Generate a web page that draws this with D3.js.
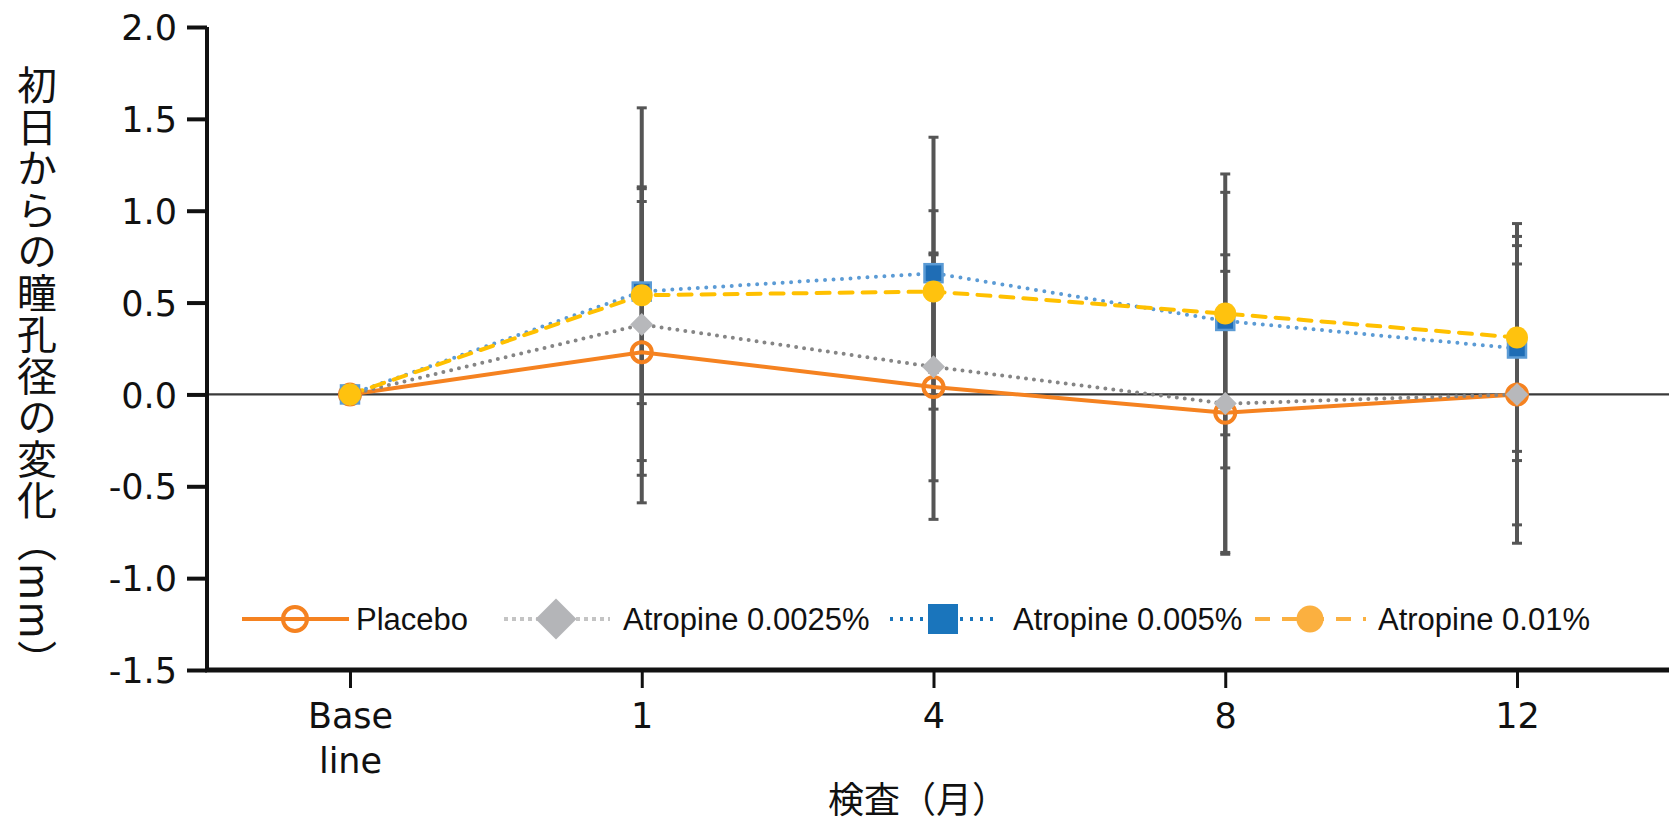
<!DOCTYPE html>
<html><head><meta charset="utf-8">
<script src="https://cdn.jsdelivr.net/npm/d3@7"></script>
<style>body{margin:0;background:#fff} svg{display:block}</style>
</head><body>
<svg id="c" width="1669" height="823"></svg>
<script>
// ---- data ----
const categories = ["Base line", "1", "4", "8", "12"];
const yTicks = [-1.5, -1.0, -0.5, 0.0, 0.5, 1.0, 1.5, 2.0];
const seriesNames = ["Placebo", "Atropine 0.0025%", "Atropine 0.005%", "Atropine 0.01%"];
const placeboMean = [0, 0.23, 0.04, -0.10, 0.00];
const placeboSD   = [0, 0.82, 0.72, 0.77, 0.81];
const atr0025Mean = [0, 0.38, 0.15, -0.05, 0.00];
const atr0025SD   = [0, 0.74, 0.62, 0.81, 0.71];
const atr005Mean  = [0, 0.56, 0.66, 0.40, 0.25];
const atr005SD    = [0, 1.00, 0.74, 0.80, 0.61];
const atr001Mean  = [0, 0.54, 0.56, 0.44, 0.31];
const atr001SD    = [0, 0.59, 0.44, 0.66, 0.62];
const yTitle = "初日からの瞳孔径の変化（mm）";
const xTitle = "検査（月）";

// ---- styles ----
const styles = [
  {line:"#f58220", dash:null, cap:"butt", marker:"openCircle", mfill:"none", mstroke:"#f58220",
   lg:{line:"#f58220", dash:null, fill:"#f58220"}},
  {line:"#858585", dash:"0 8", cap:"round", marker:"diamond", mfill:"#b7b8bb", mstroke:"none",
   lg:{line:"#c4c4c4", dash:"4 4", fill:"#b4b5b8"}},
  {line:"#5b9bd5", dash:"0 8.5", cap:"round", marker:"square", mfill:"#1f6db5", mstroke:"#5b9bd5",
   lg:{line:"#1a75bc", dash:"3 7", fill:"#1a75bc"}},
  {line:"#ffc000", dash:"13 10", cap:"round", marker:"circle", mfill:"#ffc20e", mstroke:"none",
   lg:{line:"#fbb040", dash:"15 12", fill:"#fbb040"}}
];
const series = seriesNames.map((name, i) => ({
  name,
  mean: [placeboMean, atr0025Mean, atr005Mean, atr001Mean][i],
  sd: [placeboSD, atr0025SD, atr005SD, atr001SD][i],
  st: styles[i]
}));

const svg = d3.select("#c");
const x = d3.scalePoint().domain(categories).range([350, 1517]);
const y = d3.scaleLinear().domain([-1.5, 2.0]).range([670, 27]);
const axisLeft = 207, axisRight = 1669;

const numFont = "'DejaVu Sans', Verdana, sans-serif";
const cjkFont = "'Noto Sans CJK JP', 'DejaVu Sans', sans-serif";

// zero line
svg.append("line").attr("x1", axisLeft).attr("x2", axisRight)
  .attr("y1", y(0)).attr("y2", y(0)).attr("stroke", "#3a3a3a").attr("stroke-width", 2.2);

// y axis
const gy = svg.append("g").attr("transform", `translate(${axisLeft},0)`)
  .call(d3.axisLeft(y).tickValues(yTicks).tickSize(20).tickPadding(10).tickFormat(d => d.toFixed(1)));
gy.select(".domain").attr("stroke", "#111").attr("stroke-width", 4).attr("d", `M0,${y(2.0)}V${y(-1.5)+2}`);
gy.selectAll(".tick line").attr("stroke", "#111").attr("stroke-width", 4);
gy.selectAll(".tick text").attr("font-family", numFont).attr("font-size", 35).attr("fill", "#111")
  .attr("dy", "0.36em");

// x axis
const gx = svg.append("g").attr("transform", `translate(0,${y(-1.5)})`)
  .call(d3.axisBottom(x).tickSize(18).tickSizeOuter(0));
gx.select(".domain").attr("stroke", "#111").attr("stroke-width", 5).attr("d", `M${axisLeft-2},0H${axisRight}`);
gx.selectAll(".tick line").attr("stroke", "#111").attr("stroke-width", 3);
gx.selectAll(".tick text").attr("font-family", numFont).attr("font-size", 35).attr("fill", "#111")
  .attr("y", 58).attr("dy", 0)
  .each(function(d) {
    const parts = d.split(" ");
    const t = d3.select(this).text(null);
    parts.forEach((p, k) => t.append("tspan").attr("x", 0).attr("dy", k === 0 ? 0 : 45).text(p));
  });

// axis titles
svg.append("text").attr("x", 918).attr("y", 813).attr("text-anchor", "middle")
  .attr("font-family", cjkFont).attr("font-size", 36).attr("fill", "#111").text(xTitle);
svg.append("text").attr("x", 37).attr("y", 65)
  .style("writing-mode", "vertical-rl")
  .attr("font-family", cjkFont).attr("font-size", 40).attr("letter-spacing", 1.5).attr("fill", "#111").text(yTitle);

// error bars
const eb = svg.append("g");
series.forEach(s => {
  categories.forEach((c, i) => {
    if (!s.sd[i]) return;
    const cx = x(c), hi = y(s.mean[i] + s.sd[i]), lo = y(s.mean[i] - s.sd[i]);
    eb.append("line").attr("x1", cx).attr("x2", cx).attr("y1", hi).attr("y2", lo)
      .attr("stroke", "#555").attr("stroke-width", 4);
    [hi, lo].forEach(v => eb.append("line").attr("x1", cx - 5).attr("x2", cx + 5).attr("y1", v).attr("y2", v)
      .attr("stroke", "#555").attr("stroke-width", 3));
  });
});

// lines
const lineGen = d3.line().x((d, i) => x(categories[i])).y(d => y(d));
series.forEach(s => {
  svg.append("path").attr("d", lineGen(s.mean)).attr("fill", "none")
    .attr("stroke", s.st.line).attr("stroke-width", 4)
    .attr("stroke-dasharray", s.st.dash).attr("stroke-linecap", s.st.cap);
});

function drawMarker(g, type, cx, cy, size, fill, stroke) {
  if (type === "openCircle") {
    g.append("circle").attr("cx", cx).attr("cy", cy).attr("r", size)
      .attr("fill", "none").attr("stroke", stroke).attr("stroke-width", 4);
  } else if (type === "circle") {
    g.append("circle").attr("cx", cx).attr("cy", cy).attr("r", size).attr("fill", fill);
  } else if (type === "diamond") {
    const w = size, h = size;
    g.append("path").attr("d", `M${cx},${cy-h}L${cx+w},${cy}L${cx},${cy+h}L${cx-w},${cy}Z`).attr("fill", fill);
  } else if (type === "square") {
    g.append("rect").attr("x", cx - size).attr("y", cy - size).attr("width", 2*size).attr("height", 2*size)
      .attr("fill", fill).attr("stroke", stroke).attr("stroke-width", stroke === "none" ? 0 : 2.5);
  }
}
const markerSize = {openCircle: 10, diamond: 11.5, square: 9, circle: 11};
const mg = svg.append("g");
series.forEach(s => {
  s.mean.forEach((v, i) => drawMarker(mg, s.st.marker, x(categories[i]), y(v), markerSize[s.st.marker], s.st.mfill, s.st.mstroke));
});

// legend
const legendY = 619;
const legendItems = [
  {x0: 242, x1: 349, mx: 295, size: 12, tx: 356},
  {x0: 504, x1: 610, mx: 556, size: 20.5, tx: 623},
  {x0: 890, x1: 998, mx: 943, size: 15, tx: 1013},
  {x0: 1255, x1: 1366, mx: 1310, size: 13.5, tx: 1378}
];
const lg = svg.append("g");
series.forEach((s, i) => {
  const it = legendItems[i];
  lg.append("line").attr("x1", it.x0).attr("x2", it.x1).attr("y1", legendY).attr("y2", legendY)
    .attr("stroke", s.st.lg.line).attr("stroke-width", 4).attr("stroke-dasharray", s.st.lg.dash);
  drawMarker(lg, s.st.marker, it.mx, legendY, it.size, s.st.lg.fill, s.st.marker === "openCircle" ? s.st.lg.fill : "none");
  lg.append("text").attr("x", it.tx).attr("y", legendY + 11)
    .attr("font-family", "'Liberation Sans', Arial, sans-serif").attr("font-size", 31).attr("fill", "#111").text(s.name);
});
</script>
</body></html>
